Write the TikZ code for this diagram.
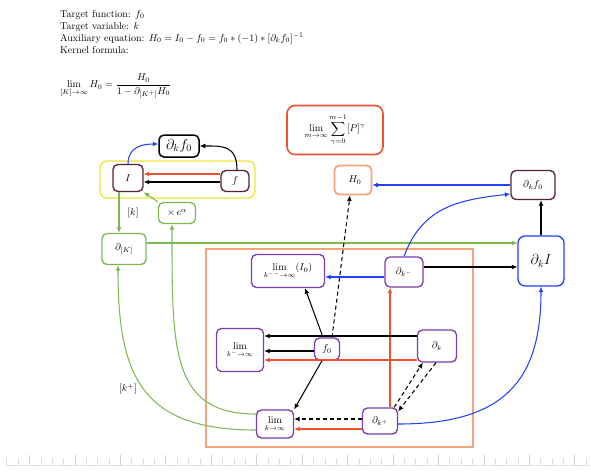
\documentclass[tikz,border=0pt]{standalone}
\usetikzlibrary{arrows.meta}
\definecolor{cpurple}{RGB}{125,60,175}
\definecolor{cmaroon}{RGB}{85,35,55}
\definecolor{cgreen}{RGB}{125,185,80}
\definecolor{cyellow}{RGB}{240,228,60}
\definecolor{csalmon}{RGB}{242,165,125}
\definecolor{cred}{RGB}{236,82,48}
\definecolor{cblue}{RGB}{35,65,250}
\begin{document}
\begin{tikzpicture}[x=1pt,y=1pt,
  box/.style={draw, rounded corners=5pt, line width=1.35pt, inner sep=0pt, align=center},
  pbox/.style={box, draw=cpurple},
  gbox/.style={box, draw=cgreen},
  arr/.style={-{Latex[length=5.5pt,width=5pt]}, line width=1.05pt},
  karr/.style={arr, black},
  kdash/.style={arr, black, dashed, dash pattern=on 4pt off 3pt},
  barr/.style={arr, cblue},
  rarr/.style={arr, cred},
  garr/.style={arr, cgreen}]
\useasboundingbox (0,0) rectangle (591,-472);
% ruler
\draw[gray!25, line width=0.6pt] (6,-465) -- (590,-465);
\foreach \i in {0,...,51} {
  \pgfmathsetmacro{\xx}{6.7+11.36*\i}
  \pgfmathtruncatemacro{\md}{mod(\i,4)}
  \ifnum\md=2
    \draw[gray!35, line width=0.6pt] (\xx,-455) -- (\xx,-465);
  \else
    \draw[gray!25, line width=0.5pt] (\xx,-458) -- (\xx,-465);
  \fi
}
% header text
\node[anchor=base west, inner sep=0] (t1) at (60,-17) {Target function: $f_0$};
\node[anchor=base west, inner sep=0] (t2) at (60,-29) {Target variable: $k$};
\node[anchor=base west, inner sep=0] (t3) at (60,-41) {Auxiliary equation: $H_0 = I_0 - f_0 = f_0 * (-1) * [\partial_k f_0]^{-1}$};
\node[anchor=base west, inner sep=0] (t4) at (60,-53) {Kernel formula:};
\node[anchor=west, inner sep=0] (t5) at (60,-86) {$\displaystyle \lim_{[K]\to\infty} H_0 = \frac{H_0}{1-\partial_{[K^+]} H_0}$};
% frames
\node[draw=csalmon, line width=2.6pt, minimum width=267pt, minimum height=198pt, inner sep=0pt] (frame) at (339.5,-348) {};
\node[draw=cyellow, rounded corners=7pt, line width=1.35pt, minimum width=155pt, minimum height=37pt, inner sep=0pt] (grp) at (177.5,-179.5) {};
% nodes
\node[box, draw=black, line width=1.5pt, minimum width=40pt, minimum height=22pt] (dkftop) at (179,-146) {\Large$\partial_k f_0$};
\node[box, draw=cmaroon, minimum width=30pt, minimum height=27pt] (I) at (128,-178) {$I$};
\node[box, draw=cmaroon, minimum width=28pt, minimum height=21pt] (f) at (235,-181) {$f$};
\node[gbox, minimum width=37pt, minimum height=21pt] (xe) at (177,-213) {$\times\, e^{\alpha}$};
\node[gbox, minimum width=44pt, minimum height=31pt] (dK) at (124,-249) {$\partial_{[K]}$};
\node[box, draw=cred, line width=1.6pt, rounded corners=8pt, minimum width=96pt, minimum height=49pt] (ls) at (335,-130) {$\displaystyle\lim_{m\to\infty}\sum_{\gamma=0}^{m-1}[P]^{\gamma}$};
\node[box, draw=csalmon, line width=1.8pt, minimum width=37pt, minimum height=29pt] (H0) at (353,-180) {\hspace{4pt}$H_0$};
\node[box, draw=cmaroon, minimum width=44pt, minimum height=29pt] (dkfR) at (533,-185) {$\partial_k f_0$};
\node[box, draw=cblue, rounded corners=7pt, minimum width=46pt, minimum height=50pt] (dkI) at (541,-261) {\Large$\partial_k I$};
\node[pbox, minimum width=38pt, minimum height=30pt] (dkm) at (404,-272) {$\partial_{k^-}$};
\node[pbox, minimum width=73pt, minimum height=33pt] (limI) at (288,-271) {$\displaystyle\lim_{k^{--}\to\infty}(I_0)$};
\node[pbox, minimum width=25pt, minimum height=22pt] (f0) at (327,-349) {$f_0$};
\node[pbox, minimum width=39pt, minimum height=32pt] (dk) at (437,-346) {$\partial_k$};
\node[pbox, minimum width=47pt, minimum height=43pt] (limkm) at (240,-350) {$\displaystyle\lim_{k^-\to\infty}$};
\node[pbox, minimum width=37pt, minimum height=28pt] (limk) at (275,-424) {$\displaystyle\lim_{k\to\infty}$};
\node[pbox, minimum width=35pt, minimum height=26pt] (dkp) at (380,-421) {$\partial_{k^+}$};
% labels
\node (lk) at (133,-213) {$[k]$};
\node (lkp) at (128,-389) {$[k^+]$};
% top cluster
\draw[barr] (I.north) .. controls +(0,18) and +(-14,0) .. ([yshift=2pt]dkftop.west);
\draw[karr] ([xshift=2pt]f.north) .. controls +(0,25) and +(22,0) .. (dkftop.east);
\draw[rarr] ([yshift=7pt]f.west) -- ([yshift=7pt]f.west -| I.east);
\draw[karr] ([yshift=-1pt]f.west) -- ([yshift=-1pt]f.west -| I.east);
\draw[garr] (xe.north west) -- (I.south east);
\draw[garr] ([xshift=-9pt]I.south) -- ([xshift=-5pt]dK.north);
\draw[garr] ([yshift=6pt]dK.east) -- ([yshift=6pt]dK.east -| dkI.west);
% right side
\draw[barr] (dkfR.west) -- (dkfR.west -| H0.east);
\draw[karr] (dkI.north) -- (dkI.north |- dkfR.south);
\draw[karr] ([yshift=5pt]dkm.east) -- ([yshift=5pt]dkm.east -| dkI.west);
\draw[barr] (dkm.north) .. controls +(18,48) and +(-55,-6) .. ([yshift=-9pt]dkfR.west);
\draw[barr] ([yshift=-5pt]dkm.west) -- ([yshift=-5pt]dkm.west -| limI.east);
\draw[rarr] ([xshift=10pt]dkp.north) -- ([xshift=10pt]dkp.north |- dkm.south);
% middle
\draw[karr] ([yshift=10pt]dk.west) -- ([yshift=10pt]dk.west -| limkm.east);
\draw[karr] ([yshift=-2pt]f0.west) -- ([yshift=-2pt]f0.west -| limkm.east);
\draw[rarr] ([yshift=-14pt]dk.west) -- ([yshift=-14pt]dk.west -| limkm.east);
\draw[karr] ([xshift=-4pt]f0.north) -- ([xshift=17pt]limI.south);
\draw[kdash] ([xshift=5pt]f0.north) -- ([xshift=-3pt]H0.south);
\draw[karr] ([xshift=-5pt]f0.south) -- (limk.north east);
% bottom
\draw[kdash] ([yshift=2pt]dkp.west) -- ([yshift=2pt]dkp.west -| limk.east);
\draw[rarr, line width=1.4pt] ([yshift=-8pt]dkp.west) -- ([yshift=-8pt]dkp.west -| limk.east);
\draw[kdash] ([xshift=-4pt]dkp.north east) -- ([xshift=6pt]dk.south west);
\draw[kdash] ([xshift=-1pt]dk.south) -- ([yshift=-4pt]dkp.north east);
\draw[barr] ([yshift=-3pt]dkp.east) .. controls +(105,0) and +(0,-95) .. (dkI.south);
\draw[garr] ([yshift=-6pt]limk.west) .. controls +(-115,0) and +(0,-110) .. ([xshift=-6pt]dK.south);
\draw[garr] ([yshift=10pt]limk.west) .. controls +(-85,0) and +(0,-125) .. ([xshift=-5pt]xe.south);
\end{tikzpicture}
\end{document}
